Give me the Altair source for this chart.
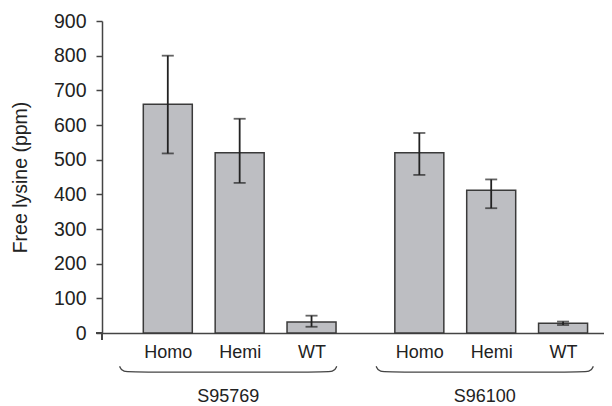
import altair as alt
import pandas as pd

# ---- data ----
genotype = ["Homo", "Hemi", "WT", "Homo", "Hemi", "WT"]
line_name = ["S95769", "S95769", "S95769", "S96100", "S96100", "S96100"]
slot = [1, 2, 3, 4.5, 5.5, 6.5]          # category slots along x (gap between lines)
lysine = [660, 520, 32, 520, 412, 28]
err_low = [518, 433, 18, 456, 360, 23]
err_high = [800, 618, 50, 577, 443, 33]

groups = ["S95769", "S96100"]
group_start = [0.33, 3.90]
group_end = [3.35, 6.92]

y_ticks = [0, 100, 200, 300, 400, 500, 600, 700, 800, 900]

df = pd.DataFrame({
    "genotype": genotype, "line": line_name, "slot": slot,
    "lysine": lysine, "lo": err_low, "hi": err_high,
})

# brace shapes built from group extents
brace_rows = []
for g, s, e in zip(groups, group_start, group_end):
    xs = [s, s + 0.03, s + 0.25, e - 0.25, e - 0.03, e]
    ys = [-96, -113, -113, -113, -113, -96]
    for i, (xx, yy) in enumerate(zip(xs, ys)):
        brace_rows.append({"group": g, "order": i, "bx": xx, "by": yy})
braces = pd.DataFrame(brace_rows)

glabels = pd.DataFrame({
    "group": groups,
    "gx": [(s + e) / 2 for s, e in zip(group_start, group_end)],
    "gy": [-199, -199],
})

xscale = alt.Scale(domain=[0.154, 7.0], nice=False, zero=False)
yscale = alt.Scale(domain=[0, 900], nice=False, zero=False)

label_expr = (
    "[" + ",".join(f"'{g}'" for g in genotype) + "]"
    "[indexof([" + ",".join(str(s) for s in slot) + "], datum.value)]"
)

X_AX = alt.Axis(values=slot, labelExpr=label_expr, ticks=False,
                grid=False, title=None, labelPadding=10,
                labelFontSize=18, labelColor="#222",
                domainColor="#444", domainWidth=1.5,
                labelOverlap=False, labelFlush=False)
Y_AX = alt.Axis(values=y_ticks, tickCount=10, grid=False, title="Free lysine (ppm)",
                titleFontSize=19.5, titleFontWeight="normal",
                titleColor="#222", titlePadding=23,
                labelFontSize=19.5, labelColor="#222", labelPadding=10,
                labelOverlap=False, labelFlush=False,
                tickSize=6, tickColor="#444", tickWidth=1.5,
                domainColor="#444", domainWidth=1.5)

bars = alt.Chart(df).mark_bar(
    size=49, color="#bdbec2", stroke="#3a3a3a", strokeWidth=1.5
).encode(
    x=alt.X("slot:Q", scale=xscale, axis=X_AX),
    y=alt.Y("lysine:Q", scale=yscale, axis=Y_AX),
)

err_rule = alt.Chart(df).mark_rule(color="#222", strokeWidth=1.8).encode(
    x=alt.X("slot:Q", scale=xscale, axis=X_AX),
    y=alt.Y("lo:Q", scale=yscale, axis=Y_AX),
    y2="hi:Q",
)

cap_hi = alt.Chart(df).mark_tick(
    color="#222", size=12, thickness=1.8, orient="horizontal"
).encode(x=alt.X("slot:Q", scale=xscale, axis=X_AX),
         y=alt.Y("hi:Q", scale=yscale, axis=Y_AX))

cap_lo = alt.Chart(df).mark_tick(
    color="#222", size=12, thickness=1.8, orient="horizontal"
).encode(x=alt.X("slot:Q", scale=xscale, axis=X_AX),
         y=alt.Y("lo:Q", scale=yscale, axis=Y_AX))

brace = alt.Chart(braces).mark_line(
    color="#444", strokeWidth=1.3, interpolate="basis"
).encode(
    x=alt.X("bx:Q", scale=xscale, axis=X_AX),
    y=alt.Y("by:Q", scale=yscale, axis=Y_AX),
    detail="group:N",
    order="order:Q",
)

gtext = alt.Chart(glabels).mark_text(
    fontSize=18, color="#222", baseline="alphabetic", align="center"
).encode(
    x=alt.X("gx:Q", scale=xscale, axis=X_AX),
    y=alt.Y("gy:Q", scale=yscale, axis=Y_AX),
    text="group:N",
)

# small axis overhang at the origin (cross-style axes)
cross_v = alt.Chart(df).mark_rule(color="#444", strokeWidth=1.5).encode(
    x=alt.value(0), y=alt.value(312), y2=alt.value(319)
)
cross_h = alt.Chart(df).mark_rule(color="#444", strokeWidth=1.5).encode(
    x=alt.value(-6), x2=alt.value(0), y=alt.value(312)
)

chart = alt.layer(bars, err_rule, cap_hi, cap_lo, brace, gtext,
                  cross_v, cross_h).properties(
    width=502, height=312,
    padding={"left": 2, "top": 3, "right": 0, "bottom": 0},
).configure(
    font="Liberation Sans",
).configure_axisY(
    tickCount=10, labelOverlap=False,
).configure_view(stroke=None)

chart.save("out.html", embed_options={"renderer": "svg", "actions": False})
